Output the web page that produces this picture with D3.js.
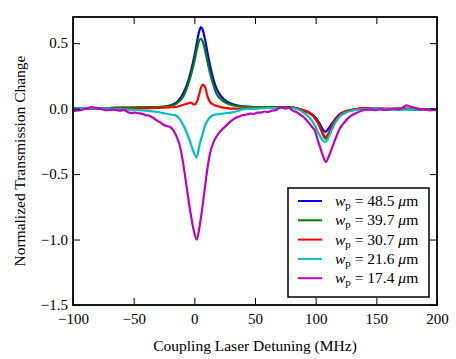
<!DOCTYPE html>
<html>
<head>
<meta charset="utf-8">
<script src="https://cdn.jsdelivr.net/npm/d3@7"></script>
<style>
    body { margin: 0; background: #fff; }
    svg text { font-family: "Liberation Serif", "Times New Roman", Times, "DejaVu Serif", serif !important; }
</style>
</head>
<body>
<div id="wrapper"></div>
<script>
// detuning (MHz) shared by the smoother curves
const detuning = [-100, -90, -80, -70, -60, -50, -40, -30, -25, -20, -16, -12, -9, -6, -3, 0, 2, 4, 5.5, 7, 9, 11, 13, 15, 18, 22, 26, 30, 35, 40, 50, 60, 70, 80, 85, 90, 95, 100, 103, 106, 108, 110, 113, 116, 120, 125, 130, 140, 150, 160, 170, 180, 190, 200];

const blueVals = [0.0, 0.0, 0.005, 0.0, 0.005, 0.005, 0.01, 0.012, 0.014, 0.025, 0.04, 0.075, 0.12, 0.185, 0.28, 0.40, 0.50, 0.59, 0.622, 0.60, 0.52, 0.42, 0.33, 0.25, 0.16, 0.095, 0.06, 0.04, 0.025, 0.018, 0.012, 0.012, 0.012, 0.01, 0.0, -0.012, -0.03, -0.07, -0.11, -0.16, -0.178, -0.16, -0.12, -0.08, -0.04, -0.02, -0.01, 0.0, 0.0, -0.005, 0.0, -0.005, -0.005, -0.01];

const greenVals = [0.0, 0.005, 0.0, 0.005, 0.01, 0.01, 0.012, 0.012, 0.015, 0.022, 0.032, 0.06, 0.095, 0.16, 0.25, 0.36, 0.45, 0.52, 0.534, 0.51, 0.44, 0.35, 0.27, 0.2, 0.12, 0.07, 0.045, 0.03, 0.02, 0.015, 0.012, 0.012, 0.012, 0.01, 0.0, -0.015, -0.035, -0.08, -0.13, -0.2, -0.23, -0.21, -0.15, -0.1, -0.05, -0.022, -0.012, 0.0, 0.0, -0.005, 0.0, -0.005, -0.005, -0.01];

const redVals = [0.005, 0.0, 0.0, 0.0, 0.0, 0.0, 0.003, 0.005, 0.008, 0.01, 0.012, 0.02, 0.03, 0.038, 0.046, 0.03, 0.05, 0.11, 0.16, 0.183, 0.16, 0.09, 0.05, 0.035, 0.022, 0.012, 0.005, 0.0, 0.0, 0.0, 0.005, 0.005, 0.008, 0.008, 0.0, -0.015, -0.035, -0.08, -0.13, -0.19, -0.217, -0.2, -0.14, -0.09, -0.045, -0.02, -0.01, 0.005, 0.0, 0.0, -0.005, 0.0, -0.005, -0.01];

const cyanVals = [0.0, 0.005, 0.0, 0.0, -0.005, -0.01, -0.015, -0.026, -0.035, -0.045, -0.05, -0.08, -0.127, -0.19, -0.265, -0.345, -0.372, -0.29, -0.235, -0.19, -0.125, -0.09, -0.065, -0.052, -0.045, -0.04, -0.035, -0.03, -0.02, -0.005, 0.0, 0.005, 0.005, 0.005, -0.005, -0.03, -0.07, -0.14, -0.2, -0.245, -0.255, -0.23, -0.17, -0.11, -0.06, -0.03, -0.015, -0.005, 0.0, -0.005, -0.01, -0.005, -0.01, -0.01];

// magenta trace is noisier, so it gets its own denser detuning list
const detuningM = [-100, -97, -94, -91, -88, -85, -82, -79, -76, -73, -70, -67, -64, -61, -58, -55, -52, -49, -46, -43, -40, -37, -34, -31, -28, -25, -22, -20, -17, -14.5, -11.8, -9, -6.3, -3.5, -0.8, 2, 4.7, 7.4, 10.2, 12.9, 16.5, 21, 25, 28, 31, 34, 37, 40, 43, 46, 49, 52, 55, 58, 61, 64, 67, 70, 72, 75, 78, 81, 84, 87, 90, 94, 97, 99.5, 102, 104, 106, 108.5, 111, 113.3, 115.5, 117.4, 120, 122.8, 126, 129, 133, 137, 141, 145, 149, 153, 157, 161, 165, 169, 172, 175, 178, 181, 184, 187, 190, 194, 197, 200];

const magentaVals = [-0.018, -0.015, -0.012, -0.005, 0.005, 0.012, 0.008, 0.0, -0.005, -0.012, -0.01, -0.008, -0.012, -0.015, -0.012, -0.025, -0.035, -0.03, -0.035, -0.04, -0.05, -0.055, -0.07, -0.09, -0.105, -0.125, -0.135, -0.14, -0.17, -0.216, -0.29, -0.43, -0.6, -0.776, -0.915, -1.0, -0.877, -0.70, -0.496, -0.343, -0.242, -0.178, -0.14, -0.114, -0.09, -0.07, -0.06, -0.05, -0.045, -0.038, -0.04, -0.03, -0.03, -0.022, -0.025, -0.015, -0.012, 0.005, 0.012, 0.0, 0.005, -0.015, -0.026, -0.045, -0.064, -0.105, -0.14, -0.17, -0.25, -0.305, -0.36, -0.407, -0.36, -0.305, -0.25, -0.204, -0.15, -0.114, -0.08, -0.055, -0.036, -0.018, -0.01, -0.008, -0.012, -0.005, -0.01, -0.005, 0.0, -0.005, 0.01, 0.025, 0.015, 0.01, 0.0, -0.005, -0.008, -0.013, -0.01, -0.012];

const legendLabels = ["48.5", "39.7", "30.7", "21.6", "17.4"];
const xTicks = [-100, -50, 0, 50, 100, 150, 200];
const yTicks = [-1.5, -1.0, -0.5, 0.0, 0.5];

let dimension = {
    width: 456,
    height: 359,
    margin: {
        top: 17,
        left: 73,
        bottom: 54,
        right: 19
    }
}
dimension.boundedWidth = dimension.width - dimension.margin.left - dimension.margin.right;
dimension.boundedHeight = dimension.height - dimension.margin.top - dimension.margin.bottom;

const serif = "'Liberation Serif', 'Times New Roman', Times, serif";

function buildPlot() {
    const svg = d3.select("#wrapper").append("svg")
        .attr("width", dimension.width)
        .attr("height", dimension.height)
        .attr("font-family", serif);

    const xScale = d3.scaleLinear()
        .domain([-100, 200])
        .range([dimension.margin.left, dimension.margin.left + dimension.boundedWidth]);
    const yScale = d3.scaleLinear()
        .domain([-1.5, 0.7])
        .range([dimension.margin.top + dimension.boundedHeight, dimension.margin.top]);

    const minus = s => s.replace("-", "\u2212");
    const fmtY = d => minus(d3.format(".1f")(d));
    const fmtX = d => minus(String(d));

    const series = [
        { color: "#0000ff", xs: detuning, ys: blueVals },
        { color: "#008000", xs: detuning, ys: greenVals },
        { color: "#ff0000", xs: detuning, ys: redVals },
        { color: "#00bfbf", xs: detuning, ys: cyanVals },
        { color: "#bf00bf", xs: detuningM, ys: magentaVals }
    ];

    svg.append("clipPath").attr("id", "clip")
        .append("rect")
        .attr("x", dimension.margin.left)
        .attr("y", dimension.margin.top)
        .attr("width", dimension.boundedWidth)
        .attr("height", dimension.boundedHeight);

    const line = d3.line()
        .x(d => xScale(d[0]))
        .y(d => yScale(d[1]))
        .curve(d3.curveMonotoneX);

    svg.append("g").attr("clip-path", "url(#clip)")
        .selectAll("path")
        .data(series)
        .enter()
        .append("path")
        .attr("d", s => line(s.xs.map((x, i) => [x, s.ys[i]])))
        .attr("fill", "none")
        .attr("stroke", s => s.color)
        .attr("stroke-width", 2.2)
        .attr("stroke-linejoin", "round");

    // axes, ticks pointing inward on all four sides
    const tick = 7;
    const styleAxis = g => {
        g.attr("font-family", serif).attr("font-size", 15);
        g.select(".domain").remove();
        g.selectAll("line").attr("stroke", "#000").attr("stroke-width", 1);
        g.selectAll("text").attr("fill", "#000");
    };

    svg.append("g")
        .attr("transform", `translate(0,${dimension.margin.top + dimension.boundedHeight})`)
        .call(d3.axisBottom(xScale).tickValues(xTicks).tickFormat(fmtX).tickSizeInner(-tick).tickSizeOuter(0).tickPadding(8))
        .call(styleAxis);
    svg.append("g")
        .attr("transform", `translate(0,${dimension.margin.top})`)
        .call(d3.axisTop(xScale).tickValues(xTicks).tickFormat("").tickSizeInner(-tick).tickSizeOuter(0))
        .call(styleAxis);
    svg.append("g")
        .attr("transform", `translate(${dimension.margin.left},0)`)
        .call(d3.axisLeft(yScale).tickValues(yTicks).tickFormat(fmtY).tickSizeInner(-tick).tickSizeOuter(0).tickPadding(5))
        .call(styleAxis);
    svg.append("g")
        .attr("transform", `translate(${dimension.margin.left + dimension.boundedWidth},0)`)
        .call(d3.axisRight(yScale).tickValues(yTicks).tickFormat("").tickSizeInner(-tick).tickSizeOuter(0))
        .call(styleAxis);

    svg.append("rect")
        .attr("x", dimension.margin.left)
        .attr("y", dimension.margin.top)
        .attr("width", dimension.boundedWidth)
        .attr("height", dimension.boundedHeight)
        .attr("fill", "none")
        .attr("stroke", "#000")
        .attr("stroke-width", 1.8);

    svg.append("text")
        .attr("x", dimension.margin.left + dimension.boundedWidth / 2)
        .attr("y", 351)
        .attr("text-anchor", "middle")
        .attr("font-size", 15.5)
        .text("Coupling Laser Detuning (MHz)");

    svg.append("text")
        .attr("transform", `translate(25,${dimension.margin.top + dimension.boundedHeight / 2}) rotate(-90)`)
        .attr("text-anchor", "middle")
        .attr("font-size", 15.5)
        .text("Normalized Transmission Change");

    // legend
    const legend = svg.append("g");
    legend.append("rect")
        .attr("x", 288).attr("y", 188)
        .attr("width", 141).attr("height", 109)
        .attr("fill", "#fff")
        .attr("stroke", "#000")
        .attr("stroke-width", 1.5);

    const rows = legend.selectAll("g.row")
        .data(series)
        .enter()
        .append("g")
        .attr("class", "row")
        .attr("transform", (d, i) => `translate(0,${201 + i * 19.3})`);

    rows.append("line")
        .attr("x1", 298).attr("x2", 322)
        .attr("y1", 0).attr("y2", 0)
        .attr("stroke", d => d.color)
        .attr("stroke-width", 2);

    const label = rows.append("text")
        .attr("x", 335)
        .attr("y", 5)
        .attr("font-size", 15.5);
    label.append("tspan").attr("font-style", "italic").text("w");
    label.append("tspan").attr("font-size", 11).attr("dy", 3).text("p");
    label.append("tspan").attr("dy", -3).text((d, i) => ` = ${legendLabels[i]} `);
    label.append("tspan").attr("font-style", "italic").text("\u03bc");
    label.append("tspan").text("m");
}

buildPlot()
</script>
</body>
</html>
